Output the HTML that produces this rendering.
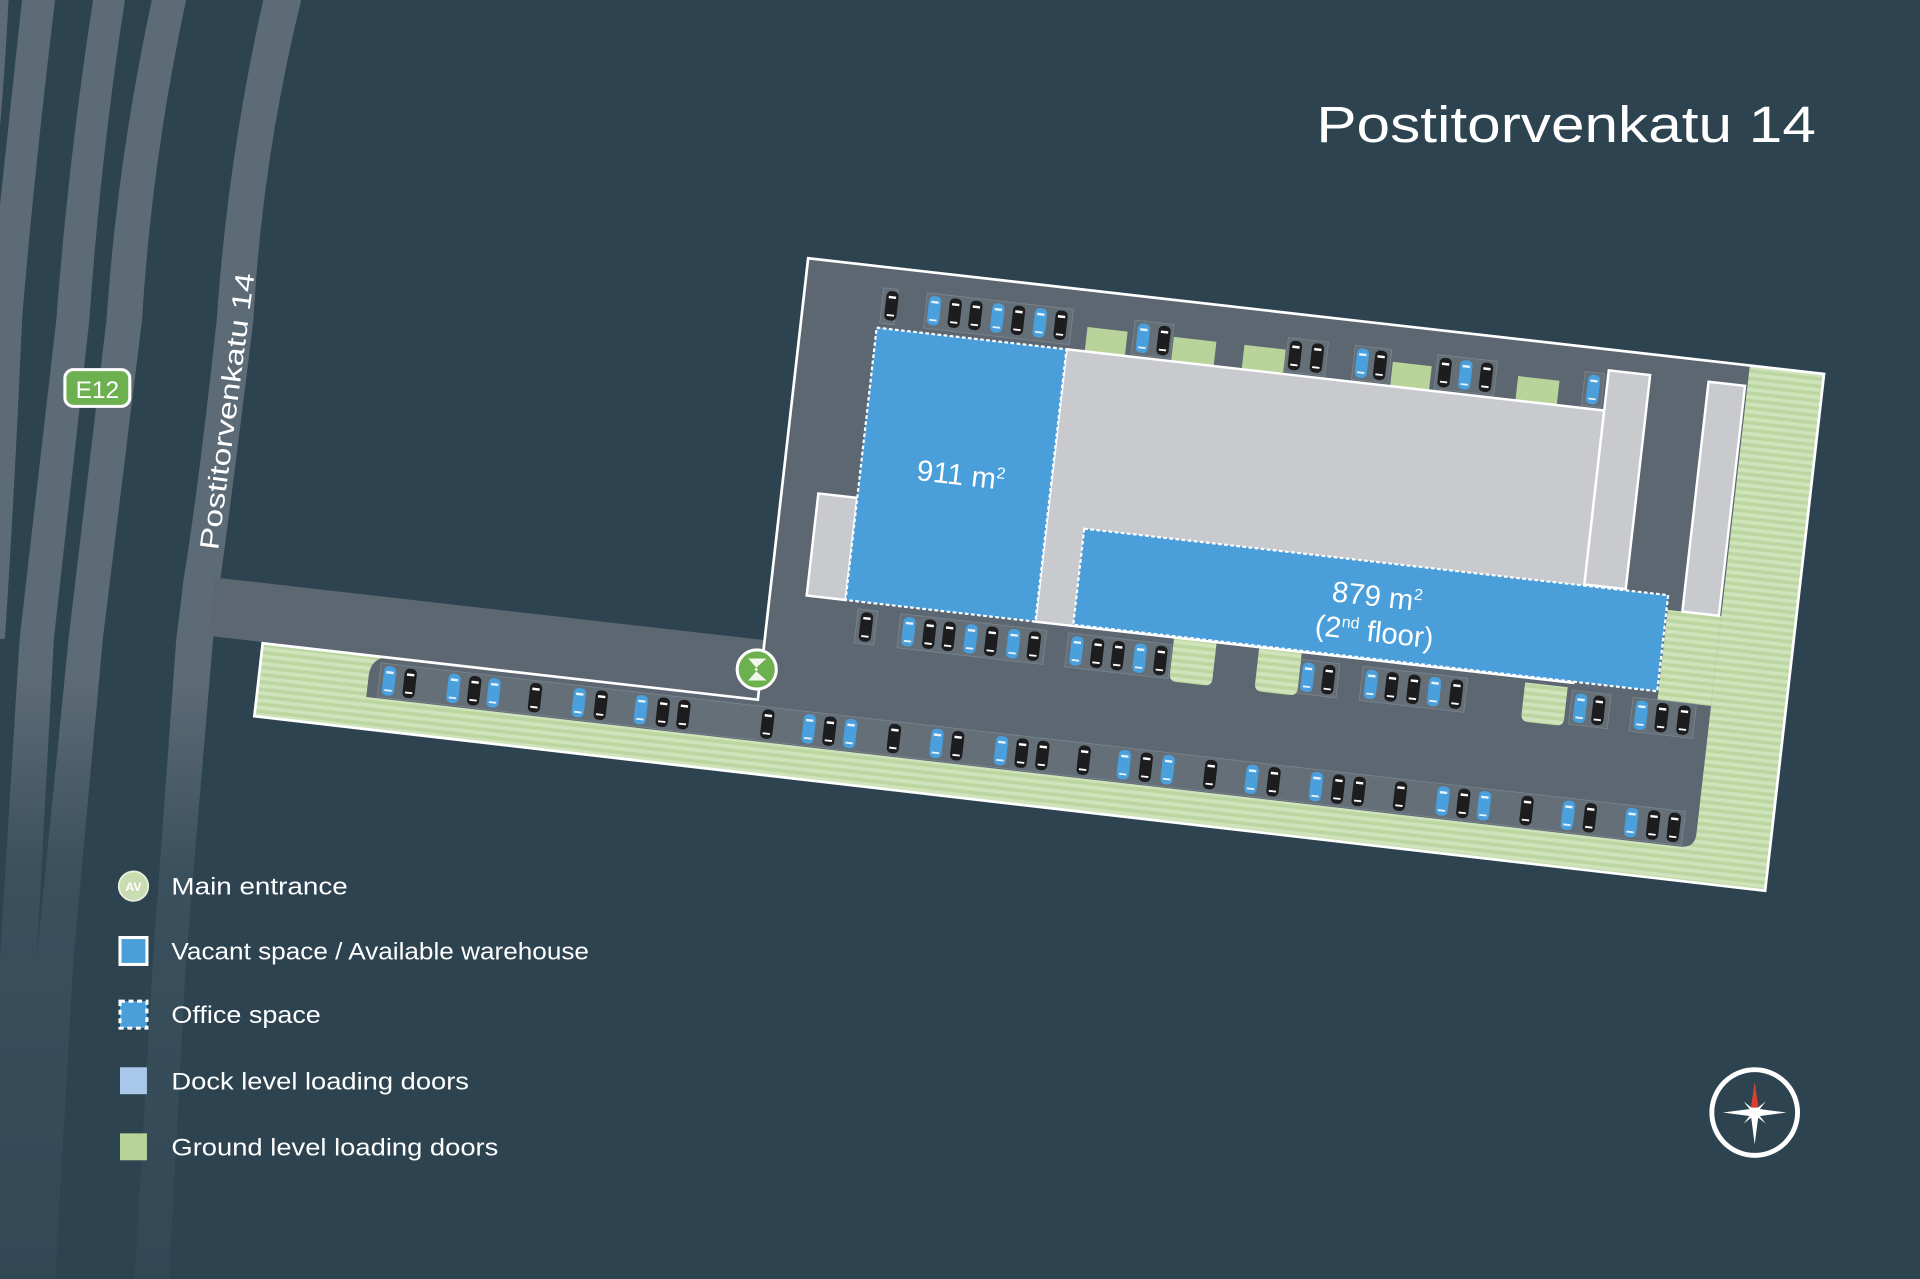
<!DOCTYPE html>
<html><head><meta charset="utf-8"><style>
html,body{margin:0;padding:0;background:#2d4350;}
svg{display:block;}
text{font-family:"Liberation Sans",sans-serif;}
</style></head><body>
<svg width="1920" height="1279" viewBox="0 0 1568 1045" preserveAspectRatio="none" xmlns="http://www.w3.org/2000/svg">
<defs>
<linearGradient id="rg" gradientUnits="userSpaceOnUse" x1="0" y1="0" x2="0" y2="1045">
<stop offset="0" stop-color="#5d6b76"/><stop offset="0.53" stop-color="#5d6b76"/><stop offset="0.68" stop-color="#3b505d"/><stop offset="1" stop-color="#324855"/>
</linearGradient>
<pattern id="gs" patternUnits="userSpaceOnUse" width="10" height="6">
<rect width="10" height="6" fill="#bcd6a1"/><rect y="0" width="10" height="3" fill="#d0e4bb"/>
</pattern>
<g id="cb"><rect x="-5" y="-12" width="10" height="24" rx="4" fill="#4a9fdd"/><rect x="-3" y="-8" width="6" height="2" fill="#e8f2fb"/><rect x="-3" y="7" width="6" height="1.5" fill="#e8f2fb"/></g>
<g id="ck"><rect x="-5" y="-12" width="10" height="24" rx="4" fill="#1d1d1f"/><rect x="-3" y="-8" width="6" height="2" fill="#fff"/><rect x="-3" y="7" width="6" height="1.5" fill="#fff"/></g>
</defs>
<rect width="1568" height="1045" fill="#2d4350"/>
<!-- highway stripes -->
<path d="M-5,0 L7,0 Q3,80 -5,155 Z" fill="url(#rg)"/>
<path d="M18,0 L45,0 Q28,140 18,261 Q12,400 4,522 L-20,522 L-10,261 Q5,120 18,0 Z" fill="url(#rg)"/>
<path d="M76,0 L102,0 Q82,130 73,261 L44,522 L30,783 L20,1045 L-10,1045 L0,783 L16,522 L46,261 Q56,130 76,0 Z" fill="url(#rg)"/>
<path d="M124,0 L152,0 Q124,130 116,261 L84,522 L60,783 L45,1045 L15,1045 L30,783 L56,522 L87,261 Q96,130 124,0 Z" fill="url(#rg)"/>
<path d="M215,0 L246,0 Q214,130 207,261 Q190,400 180,473 L174,522 L152,783 L138,1045 L110,1045 L125,783 L144,522 L150,473 Q162,400 177,261 Q186,130 215,0 Z" fill="url(#rg)"/>
<!-- rotated site -->
<g transform="translate(660 211) rotate(6.5)">
<rect x="-452" y="314" width="452" height="48" fill="#5c6771"/>
<path d="M0,0 H835 V425 L-407,423 V363 H0 Z" fill="url(#gs)"/>
<path d="M0,0 H774 V385 Q774,397 762,397 H-318 V380 Q-318,366 -306,363 H0 Z" fill="#5c6771"/>
<rect x="730" y="206" width="44" height="74" fill="url(#gs)"/>
<g fill="#646f78" stroke="#7a848d" stroke-width="0.7">
<rect x="64" y="17" width="12" height="29"/><rect x="100" y="17" width="120" height="29"/>
<rect x="271" y="20" width="32" height="28"/><rect x="397" y="20" width="33" height="28"/><rect x="452" y="20" width="30" height="28"/><rect x="520" y="20" width="49" height="28"/><rect x="641" y="20" width="16" height="28"/>
<rect x="73" y="280" width="16" height="28"/><rect x="108" y="280" width="120" height="28"/><rect x="246" y="280" width="85" height="28"/><rect x="437" y="280" width="32" height="28"/><rect x="488" y="280" width="86" height="28"/><rect x="660" y="280" width="32" height="28"/><rect x="710" y="280" width="52" height="28"/>
<rect x="-309" y="368" width="1072" height="28"/>
</g>
<g fill="#b8d49a">
<rect x="233" y="30" width="33" height="20"/><rect x="304" y="30" width="35" height="20"/><rect x="362" y="30" width="34" height="20"/><rect x="484" y="30" width="32" height="20"/><rect x="587" y="30" width="34" height="20"/>
</g>
<g fill="url(#gs)">
<path d="M332,274 H367 V304 Q367,310 361,310 H338 Q332,310 332,304 Z"/>
<path d="M402,274 H437 V304 Q437,310 431,310 H408 Q402,310 402,304 Z"/>
<path d="M621,278 H656 V304 Q656,310 650,310 H627 Q621,310 621,304 Z"/>
</g>
<g stroke="#ffffff" stroke-width="2">
<rect x="30" y="190" width="32" height="84" fill="#c8cacd"/>
<rect x="218" y="50" width="442" height="224" fill="#c8cacd"/>
<rect x="660" y="17" width="34" height="176" fill="#c8cacd"/>
<rect x="742" y="17" width="30" height="189" fill="#c8cacd"/>
</g>
<g fill="#4a9ed9" stroke="#ffffff" stroke-width="1.8" stroke-dasharray="3 2">
<rect x="62" y="50" width="156" height="224"/>
<rect x="249" y="194" width="480" height="79"/>
</g>
<text x="144" y="170" font-size="24" fill="#fff" text-anchor="middle">911 m<tspan font-size="13" dy="-9">2</tspan></text>
<text x="493" y="230" font-size="24" fill="#fff" text-anchor="middle">879 m<tspan font-size="13" dy="-9">2</tspan></text>
<text x="494" y="259" font-size="24" fill="#fff" text-anchor="middle">(2<tspan font-size="13" dy="-9">nd</tspan><tspan dy="9"> floor)</tspan></text>
<use href="#ck" x="72" y="31"/><use href="#cb" x="107" y="31"/><use href="#ck" x="124" y="31"/><use href="#ck" x="141" y="31"/><use href="#cb" x="159" y="31"/><use href="#ck" x="176" y="31"/><use href="#cb" x="194" y="31"/><use href="#ck" x="211" y="31"/>
<use href="#cb" x="279" y="34"/><use href="#ck" x="296" y="34"/><use href="#ck" x="404" y="34"/><use href="#ck" x="422" y="34"/><use href="#cb" x="459" y="34"/><use href="#ck" x="474" y="34"/><use href="#ck" x="527" y="34"/><use href="#cb" x="544" y="34"/><use href="#ck" x="561" y="34"/><use href="#cb" x="649" y="34"/>
<use href="#ck" x="81" y="294"/><use href="#cb" x="116" y="294"/><use href="#ck" x="133" y="294"/><use href="#ck" x="149" y="294"/><use href="#cb" x="167" y="294"/><use href="#ck" x="184" y="294"/><use href="#cb" x="202" y="294"/><use href="#ck" x="219" y="294"/>
<use href="#cb" x="254" y="294"/><use href="#ck" x="271" y="294"/><use href="#ck" x="288" y="294"/><use href="#cb" x="306" y="294"/><use href="#ck" x="323" y="294"/>
<use href="#cb" x="444" y="294"/><use href="#ck" x="461" y="294"/><use href="#cb" x="496" y="294"/><use href="#ck" x="513" y="294"/><use href="#ck" x="531" y="294"/><use href="#cb" x="548" y="294"/><use href="#ck" x="566" y="294"/>
<use href="#cb" x="668" y="294"/><use href="#ck" x="683" y="294"/><use href="#cb" x="718" y="294"/><use href="#ck" x="735" y="294"/><use href="#ck" x="753" y="294"/>
<use href="#cb" x="-301" y="382"/><use href="#ck" x="-284" y="382"/><use href="#cb" x="-248" y="382"/><use href="#ck" x="-231" y="382"/><use href="#cb" x="-215" y="382"/><use href="#ck" x="-181" y="382"/><use href="#cb" x="-145" y="382"/><use href="#ck" x="-127" y="382"/><use href="#cb" x="-94" y="382"/><use href="#ck" x="-76" y="382"/><use href="#ck" x="-59" y="382"/>
<use href="#ck" x="10" y="382"/><use href="#cb" x="44" y="382"/><use href="#ck" x="61" y="382"/><use href="#cb" x="78" y="382"/><use href="#ck" x="114" y="382"/><use href="#cb" x="149" y="382"/><use href="#ck" x="166" y="382"/><use href="#cb" x="202" y="382"/><use href="#ck" x="219" y="382"/><use href="#ck" x="236" y="382"/><use href="#ck" x="270" y="382"/><use href="#cb" x="303" y="382"/><use href="#ck" x="321" y="382"/><use href="#cb" x="339" y="382"/><use href="#ck" x="374" y="382"/><use href="#cb" x="408" y="382"/><use href="#ck" x="426" y="382"/><use href="#cb" x="461" y="382"/><use href="#ck" x="479" y="382"/><use href="#ck" x="496" y="382"/><use href="#ck" x="530" y="382"/><use href="#cb" x="565" y="382"/><use href="#ck" x="582" y="382"/><use href="#cb" x="599" y="382"/><use href="#ck" x="634" y="382"/><use href="#cb" x="668" y="382"/><use href="#ck" x="686" y="382"/><use href="#cb" x="720" y="382"/><use href="#ck" x="738" y="382"/><use href="#ck" x="755" y="382"/>
<path d="M0,0 H835 V425 L-407,423 V363 H0 Z" fill="none" stroke="#fff" stroke-width="2.2"/>
</g>
<circle cx="618" cy="547" r="16" fill="#6db04f" stroke="#fff" stroke-width="2.5"/>
<path d="M611,538 L626,538 L616,547 L626,556 L611,556 L619,547 Z" fill="#fff" opacity="0.9"/>
<rect x="53" y="302" width="53" height="30" rx="7" fill="#6db04f" stroke="#fff" stroke-width="2.5"/>
<text x="79.5" y="325" font-size="20" fill="#fff" text-anchor="middle">E12</text>
<text transform="translate(178,450) rotate(-82.5)" font-size="22" fill="#fff" textLength="228" lengthAdjust="spacingAndGlyphs">Postitorvenkatu 14</text>
<text x="1075" y="116" font-size="42" fill="#fff" textLength="408" lengthAdjust="spacingAndGlyphs">Postitorvenkatu 14</text>
<circle cx="109" cy="724" r="12" fill="#c9dbb0" stroke="#e8f0dc" stroke-width="1.5"/>
<text x="109" y="728" font-size="10" fill="#fff" text-anchor="middle" font-weight="bold">AV</text>
<rect x="98" y="766" width="22" height="22" fill="#4a9ed9" stroke="#fff" stroke-width="2.5"/>
<rect x="98" y="818" width="22" height="22" fill="#4a9ed9" stroke="#fff" stroke-width="2.5" stroke-dasharray="4 3"/>
<rect x="98" y="872" width="22" height="22" fill="#a9c8ea"/>
<rect x="98" y="926" width="22" height="22" fill="#b8d49a"/>
<g font-size="20" fill="#fff">
<text x="140" y="731" textLength="144" lengthAdjust="spacingAndGlyphs">Main entrance</text>
<text x="140" y="784" textLength="341" lengthAdjust="spacingAndGlyphs">Vacant space / Available warehouse</text>
<text x="140" y="836" textLength="122" lengthAdjust="spacingAndGlyphs">Office space</text>
<text x="140" y="890" textLength="243" lengthAdjust="spacingAndGlyphs">Dock level loading doors</text>
<text x="140" y="944" textLength="267" lengthAdjust="spacingAndGlyphs">Ground level loading doors</text>
</g>
<circle cx="1433" cy="909" r="35" fill="none" stroke="#fff" stroke-width="4"/>
<path d="M1433,935 L1430,912 L1407,909 L1430,906 L1433,885 L1436,906 L1459,909 L1436,912 Z" fill="#fff"/>
<path d="M1424,900 L1433,907 L1442,900 L1435,909 L1442,918 L1433,911 L1424,918 L1431,909 Z" fill="#fff"/>
<path d="M1433,885 L1436,905 L1430,905 Z" fill="#e03a2f"/>
</svg>
</body></html>
